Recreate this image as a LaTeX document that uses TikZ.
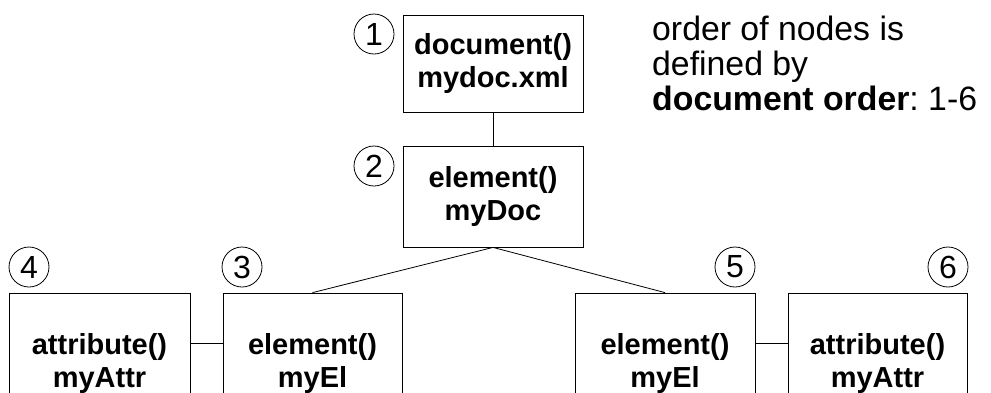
\documentclass[tikz,border=0pt]{standalone}
\usepackage{fontspec}
\setmainfont{Liberation Sans}
\begin{document}
\frenchspacing
\begin{tikzpicture}[x=1pt,y=-1pt,
  box/.style={draw, line width=0.8pt, align=center, inner sep=0pt,
    font=\bfseries\fontsize{29}{33}\selectfont},
  num/.style={draw, circle, line width=0.8pt, minimum size=40pt, inner sep=0pt,
    font=\fontsize{32}{32}\selectfont},
  note/.style={anchor=base west, inner sep=0pt, font=\fontsize{33.8}{36}\selectfont},
  link/.style={line width=0.8pt}]
\useasboundingbox (0,0) rectangle (991,392);
\clip (0,0) rectangle (991,392);

\node[box, minimum width=180pt, minimum height=97pt] (d1) at (493,63.5) {document()\\mydoc.xml};
\node[box, minimum width=180pt, minimum height=101pt] (d2) at (493,196.5) {element()\\myDoc};
\node[box, minimum width=181pt, minimum height=140pt] (b4) at (99.5,363) {attribute()\\myAttr};
\node[box, minimum width=179pt, minimum height=140pt] (b3) at (312.5,363) {element()\\myEl};
\node[box, minimum width=180pt, minimum height=140pt] (b5) at (665,363) {element()\\myEl};
\node[box, minimum width=179pt, minimum height=140pt] (b6) at (877.5,363) {attribute()\\myAttr};

\node[num] (n1) at (374,34) {1};
\node[num] (n2) at (374,166) {2};
\node[num] (n3) at (242,267) {3};
\node[num] (n4) at (29,267) {4};
\node[num] (n5) at (735,267) {5};
\node[num] (n6) at (948,267) {6};

\draw[link] (d1.south) -- (d2.north);
\draw[link] (d2.south) -- (b3.north);
\draw[link] (d2.south) -- (b5.north);
\draw[link] ([yshift=20pt]b4.east) -- ([yshift=20pt]b3.west);
\draw[link] ([yshift=20pt]b5.east) -- ([yshift=20pt]b6.west);

\node[note] (t1) at (652,40) {order of nodes is};
\node[note] (t2) at (652,75) {defined by};
\node[note] (t3) at (652,110) {\textbf{document order}: 1-6};
\end{tikzpicture}
\end{document}
